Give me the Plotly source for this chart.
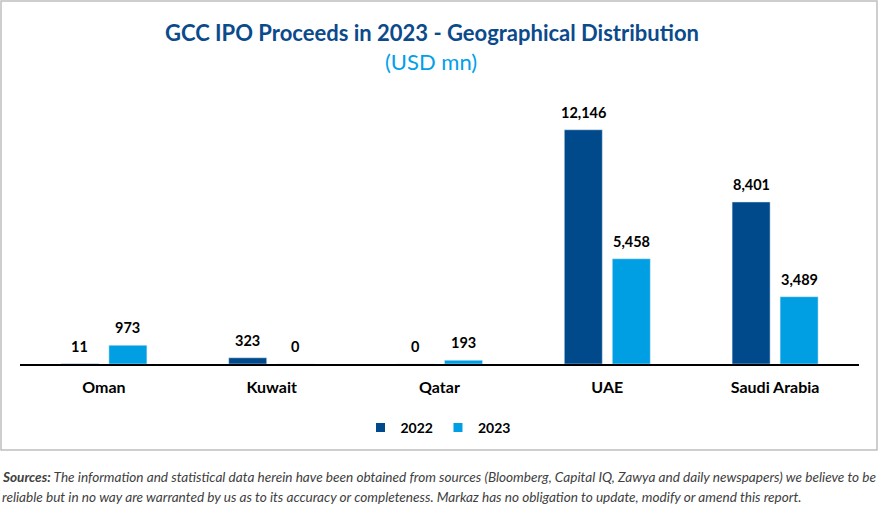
import plotly.graph_objects as go

categories = ["Oman", "Kuwait", "Qatar", "UAE", "Saudi Arabia"]
values_2022 = [11, 323, 0, 12146, 8401]
values_2023 = [973, 0, 193, 5458, 3489]
series_names = ["2022", "2023"]

W, H = 879, 515
L, R, T, B = 20, 20, 94, 151
PW, PH = W - L - R, H - T - B

def px_x(px):
    return (px - L) / PW

def px_y(py):
    return (H - B - py) / PH

FONT = "Lato"
C2022 = "#004A8C"
C2023 = "#009FE3"

fig = go.Figure()
fig.add_trace(go.Bar(x=categories, y=values_2022, name=series_names[0], marker_color=C2022, showlegend=False))
fig.add_trace(go.Bar(x=categories, y=values_2023, name=series_names[1], marker_color=C2023, showlegend=False))
for name, col in zip(series_names, (C2022, C2023)):
    fig.add_trace(go.Scatter(x=[None], y=[None], mode="markers", name=name,
                             marker=dict(symbol="square", size=9, color=col)))

annotations = []
for vals, shift in ((values_2022, -24), (values_2023, 24)):
    for c, v in zip(categories, vals):
        annotations.append(dict(x=c, y=v, xref="x", yref="y", text=f"{v:,}", showarrow=False,
                                xshift=shift, yanchor="bottom", yshift=7,
                                font=dict(family=FONT, size=14.5, color="#000000", weight="bold")))

annotations.append(dict(x=px_x(432), y=px_y(32), xref="paper", yref="paper", xanchor="center", yanchor="middle",
                        text="<b>GCC IPO Proceeds in 2023 - Geographical Distribution</b>", showarrow=False,
                        font=dict(family=FONT, size=22, color="#0B4A8B")))
annotations.append(dict(x=px_x(431), y=px_y(61), xref="paper", yref="paper", xanchor="center", yanchor="middle",
                        text="(USD mn)", showarrow=False,
                        font=dict(family=FONT, size=22, color="#00A0E9")))
footer_lines = [
    "<b><i>Sources:</i></b><i> The information and statistical data herein have been obtained from sources (Bloomberg, Capital IQ, Zawya and daily newspapers) we believe to be</i>",
    "<i>reliable but in no way are warranted by us as to its accuracy or completeness. Markaz has no obligation to update, modify or amend this report.</i>",
]
for line, yc in zip(footer_lines, (477, 497)):
    annotations.append(dict(x=px_x(0), y=px_y(yc), xref="paper", yref="paper", xanchor="left", yanchor="middle",
                            align="left", text=line, showarrow=False,
                            font=dict(family=FONT, size=13.6, color="#404040")))

fig.update_layout(
    width=W, height=H,
    margin=dict(l=L, r=R, t=T, b=B),
    paper_bgcolor="white", plot_bgcolor="white",
    barmode="group", bargap=0.428, bargroupgap=0.208,
    font=dict(family=FONT, size=14, color="#000000"),
    xaxis=dict(showline=True, linecolor="#000000", linewidth=1.5, ticks="",
               tickfont=dict(family=FONT, size=16, color="#000000", weight="bold"),
               ticklabelstandoff=8, showgrid=False),
    yaxis=dict(range=[0, 14000], visible=False, showgrid=False, zeroline=False),
    showlegend=True,
    legend=dict(orientation="h", x=px_x(438), xanchor="center", y=px_y(428), yanchor="middle",
                font=dict(family=FONT, size=14, color="#000000", weight="bold"),
                itemwidth=30, traceorder="normal", bgcolor="rgba(0,0,0,0)"),
    annotations=annotations,
    shapes=[dict(type="rect", xref="paper", yref="paper",
                 x0=px_x(1), x1=px_x(877), y0=px_y(450), y1=px_y(1),
                 line=dict(color="#BFBFBF", width=1.5), fillcolor="rgba(0,0,0,0)", layer="below")],
)

fig.write_html("out.html", config={"displayModeBar": False},
               post_script="document.body.style.margin='0';document.body.style.overflow='hidden';")
